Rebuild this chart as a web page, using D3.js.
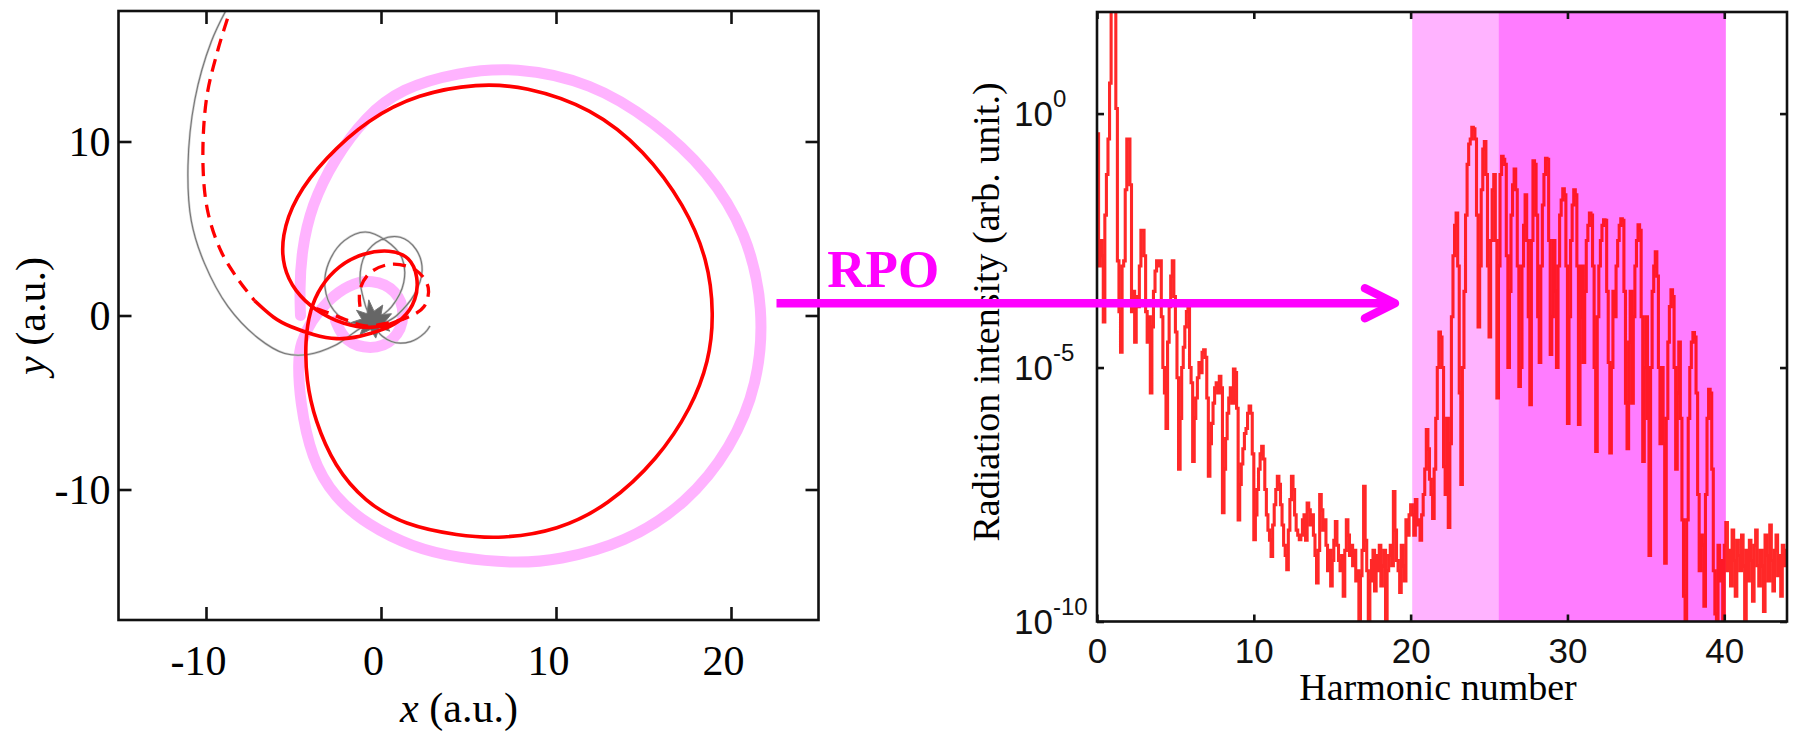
<!DOCTYPE html>
<html><head><meta charset="utf-8">
<script src="https://cdn.jsdelivr.net/npm/d3@7"></script>
<style>body{margin:0;background:#fff}svg{display:block}</style>
</head><body>
<svg id="fig" width="1794" height="731"></svg>
<script>
// ---------- trajectory panel data (atomic units) ----------
const pinkSpiral = [
  [-2.6,-0.3],[-2.1,-1.5],[-0.6,-2.0],[0.8,-1.5],[1.45,0.0],[0.9,1.5],[-0.5,2.1],[-1.9,1.75],
  [-3.0,0.9],[-4.0,-0.3],[-4.6,-1.6],[-4.74,-2.63],[-4.65,-4.87],[-3.98,-8.24],[-2.65,-10.48],
  [-0.74,-12.05],[1.73,-13.29],[4.4,-13.95],[7.64,-14.25],[10.11,-14.07],[13.92,-13.1],
  [17.5,-10.8],[20.02,-7.6],[21.54,-3.98],[21.9,0.4],[20.9,4.77],[18.7,8.3],[15.6,11.15],
  [12.02,13.4],[7.64,14.3],[4.4,13.97],[1.16,13.07],[-0.9,11.4],[-2.65,9.03],[-3.98,6.34],
  [-4.55,3.65],[-4.65,1.41],[-4.6,0.0]
];
const redSolid = [
  [-7.22,0.85],[-6.1,-0.2],[-5.2,-0.64],[-3.87,-1.12],[-2.53,-1.41],[-1.2,-1.22],[0.13,-0.83],
  [1.27,-0.26],[2.04,0.89],[2.13,2.23],[1.66,3.38],[0.51,3.8],[-1.01,3.6],[-2.4,2.9],[-3.49,1.66],
  [-4.06,0.32],[-4.34,-1.41],[-4.27,-3.75],[-3.79,-6.0],[-2.65,-8.69],[-0.93,-10.7],[1.35,-12.05],
  [4.4,-12.65],[6.88,-12.84],[10.11,-12.35],[12.97,-10.93],[15.83,-8.24],[17.73,-5.32],
  [18.75,-2.63],[19.03,0.06],[18.69,3.2],[17.35,6.34],[15.07,9.48],[12.02,11.95],[8.21,13.18],
  [5.54,13.34],[2.11,12.74],[-0.74,11.28],[-3.21,9.03],[-4.93,6.79],[-5.69,4.55],[-5.6,2.75],
  [-4.93,1.41],[-3.79,0.29],[-2.08,-0.55],[-0.6,-0.75],[0.5,-0.55],[1.4,-0.1]
];
const redDashedOuter = [
  [-8.4,18.2],[-9.31,15.3],[-9.98,12.4],[-10.17,8.59],[-9.88,5.89],[-9.12,3.65],[-8.17,2.08],[-7.22,0.85]
];
const redDashedInner = [
  [-3.7,0.4],[-3.0,0.15],[-2.0,-0.25],[-0.9,-0.6],[0.3,-0.45],[1.5,-0.12],[2.45,0.5],[2.7,1.6],
  [2.0,2.6],[0.6,2.95],[-0.63,2.45],[-1.2,1.5],[-1.2,0.5]
];
const grayOuter = [
  [-8.5,18.2],[-9.69,15.76],[-10.64,12.4],[-11.03,8.59],[-10.84,5.44],[-10.08,2.98],[-8.74,0.51],
  [-7.03,-1.29],[-5.5,-2.18],[-4.17,-2.24],[-2.65,-1.73],[-1.31,-0.82],[-0.4,-0.3]
];
const grayLoops = [
  [-0.4,-0.3],[0.6,0.5],[1.3,1.9],[1.2,3.3],[0.3,4.3],[-0.9,4.8],[-2.1,4.3],[-3.0,3.0],[-3.2,1.6],
  [-2.7,0.3],[-1.6,-0.5],[-0.5,-0.6],[-0.9,0.6],[-1.2,2.1],[-0.9,3.5],[0.0,4.35],[1.1,4.5],
  [2.0,3.8],[2.35,2.6],[1.9,1.2],[0.9,0.0],[-0.2,-0.8],[0.6,-1.5],[1.7,-1.5],[2.5,-1.0],[2.8,-0.6]
];
const coreBlob = [
  [-1.7,-0.4],[-1.1,-0.2],[-1.4,0.3],[-0.8,0.1],[-0.7,0.9],[-0.4,0.25],[0.1,0.6],[0.0,0.05],
  [0.6,0.1],[0.2,-0.4],[0.5,-0.9],[-0.1,-0.7],[-0.3,-1.3],[-0.6,-0.8],[-1.2,-1.1],[-1.0,-0.6]
];
const trajXTicks = [-10, 0, 10, 20];
const trajYTicks = [-10, 0, 10];

// ---------- spectrum panel data ----------
const harmonicStep = 0.1;
// log10 of radiation intensity, ten samples per harmonic order
const spectrumLog = [
  -0.4,-3.0,-2.5,-2.8,-4.1,-2.0,-1.2,-0.5,0.6,2.3,
  2.3,2.3,0.1,-2.9,-3.9,-4.7,-3.0,-2.9,-1.5,-0.5,
  -0.5,-1.4,-3.9,-3.5,-4.5,-3.6,-3.8,-3.0,-2.3,-2.3,
  -2.8,-3.9,-4.5,-4.0,-5.5,-4.2,-3.5,-3.1,-2.9,-3.0,
  -2.9,-4.0,-5.0,-5.5,-6.2,-4.5,-3.8,-3.2,-2.9,-3.6,
  -4.3,-5.2,-7.0,-6.0,-5.0,-4.6,-4.2,-3.9,-3.8,-5.0,
  -5.3,-6.85,-6.0,-5.6,-5.2,-4.9,-5.1,-4.7,-4.65,-4.8,
  -5.6,-7.14,-6.5,-6.1,-5.7,-5.4,-5.3,-5.5,-5.17,-5.4,
  -7.86,-7.0,-6.4,-5.9,-5.6,-5.4,-5.7,-5.03,-5.1,-5.8,
  -8.0,-7.3,-6.9,-6.6,-6.3,-6.2,-5.9,-5.76,-5.9,-6.7,
  -8.39,-7.9,-7.4,-7.0,-6.7,-6.55,-6.8,-7.4,-7.9,-8.2,
  -8.4,-8.72,-8.1,-7.7,-7.4,-7.14,-7.3,-7.7,-8.1,-8.5,
  -8.7,-8.98,-8.2,-7.6,-7.14,-7.4,-7.9,-8.2,-8.3,-8.39,
  -8.3,-8.0,-7.9,-8.4,-7.67,-7.8,-8.1,-7.9,-8.3,-8.7,
  -9.24,-8.6,-7.5,-7.8,-8.2,-8.0,-8.5,-9.0,-8.6,-9.3,
  -8.8,-8.4,-8.03,-8.5,-8.8,-9.0,-8.7,-9.5,-8.6,-8.0,
  -8.3,-8.7,-8.5,-8.9,-8.6,-9.2,-9.0,-10.5,-9.1,-8.6,
  -7.34,-8.4,-9.0,-10.5,-9.2,-8.8,-8.6,-9.4,-8.7,-9.0,
  -8.5,-9.3,-8.9,-8.6,-10.5,-9.0,-8.7,-8.5,-8.9,-7.44,
  -8.2,-8.8,-9.0,-9.43,-8.5,-8.9,-9.2,-8.0,-8.3,-7.9,
  -7.7,-7.9,-8.3,-7.6,-8.1,-8.0,-8.4,-7.9,-7.5,-7.0,
  -6.22,-6.6,-7.2,-7.5,-7.97,-7.0,-6.0,-5.0,-4.3,-4.4,
  -5.0,-6.95,-7.5,-6.0,-8.15,-6.5,-4.0,-2.8,-2.2,-1.96,
  -3.0,-5.5,-7.3,-5.0,-3.5,-2.0,-1.0,-0.6,-0.5,-0.27,
  -0.3,-0.5,-2.0,-4.2,-3.0,-1.5,-0.7,-0.55,-1.2,-3.0,
  -4.4,-2.5,-1.5,-1.2,-2.5,-5.6,-3.0,-1.2,-0.84,-0.9,
  -1.0,-2.8,-5.0,-3.5,-2.0,-1.4,-1.09,-1.5,-3.0,-5.37,
  -5.0,-3.0,-2.2,-1.6,-2.5,-4.0,-5.73,-2.5,-0.93,-1.0,
  -2.0,-4.0,-4.9,-3.0,-1.8,-1.2,-0.88,-0.9,-2.5,-4.74,
  -4.0,-2.5,-3.5,-5.0,-3.0,-2.0,-1.7,-1.48,-1.6,-3.0,
  -6.1,-4.0,-2.5,-1.8,-1.5,-1.6,-3.0,-6.12,-4.0,-3.0,
  -4.9,-3.5,-2.5,-2.2,-1.96,-2.0,-3.0,-5.0,-6.65,-4.0,
  -3.0,-2.5,-2.2,-2.09,-2.1,-3.5,-4.9,-6.68,-5.0,-3.5,
  -4.0,-3.0,-2.5,-2.2,-2.07,-2.1,-3.5,-5.7,-6.6,-4.5,
  -3.5,-5.7,-4.0,-3.0,-2.5,-2.19,-2.3,-4.0,-6.85,-5.0,
  -4.0,-6.0,-8.7,-5.0,-3.5,-3.0,-2.72,-3.2,-5.0,-6.5,
  -5.0,-6.5,-8.85,-6.0,-4.5,-3.8,-3.47,-3.6,-5.0,-7.0,
  -5.5,-4.5,-6.0,-8.0,-9.5,-10.5,-8.0,-6.0,-5.0,-4.5,
  -4.31,-4.4,-5.5,-7.5,-9.0,-8.3,-8.5,-9.7,-7.5,-6.0,
  -5.43,-5.5,-7.0,-9.0,-9.85,-10.5,-8.5,-9.2,-8.8,-10.5,
  -8.5,-8.05,-9.0,-8.6,-9.3,-8.2,-8.8,-9.5,-8.4,-8.7,
  -9.0,-8.3,-8.9,-10.5,-8.6,-9.2,-8.4,-8.8,-9.6,-8.5,
  -8.2,-8.9,-9.3,-8.6,-8.9,-9.8,-8.3,-8.7,-9.2,-8.1,
  -8.8,-9.4,-8.6,-8.3,-9.1,-8.7,-9.5,-8.5,-8.9,-8.6,
  -8.8
];
const bandEdges = [20.1, 25.6, 40.1];          // light band, then dark band
const bandColors = ["#ffb3ff", "#ff7cff"];
const specXTicks = [0, 10, 20, 30, 40];
const specYTicks = [0, -5, -10];                // decades

// RPO annotation: arrow from trajectory panel (x, y in a.u.) into the spectrum panel (harmonic, log10 I)
const arrowFrom = [22.6, 0.7];
const arrowTo = [19.0, -3.73];
const rpoAnchor = [25.5, 1.65];

// ---------- drawing ----------
const svg = d3.select("#fig");
const serif = "'Liberation Serif','Times New Roman',Times,serif";
const sans = "'Liberation Sans',Arial,Helvetica,sans-serif";

const xL = d3.scaleLinear().domain([-15, 25]).range([118.5, 818.5]);
const yL = d3.scaleLinear().domain([-17.5, 17.5]).range([620, 11]);
const xR = d3.scaleLinear().domain([0, 44]).range([1097, 1787]);
const yR = d3.scaleLog().domain([1e-10, 1e2]).range([621.5, 12]);

const defs = svg.append("defs");
defs.append("clipPath").attr("id", "clipL").append("rect")
  .attr("x", xL.range()[0]).attr("y", yL.range()[1])
  .attr("width", xL.range()[1] - xL.range()[0]).attr("height", yL.range()[0] - yL.range()[1]);
defs.append("clipPath").attr("id", "clipR").append("rect")
  .attr("x", xR.range()[0]).attr("y", yR.range()[1])
  .attr("width", xR.range()[1] - xR.range()[0]).attr("height", yR.range()[0] - yR.range()[1]);

// ----- trajectory panel -----
const gL = svg.append("g");
const trajSmooth = d3.line().x(d => xL(d[0])).y(d => yL(d[1])).curve(d3.curveBasis);
const trajLoose = d3.line().x(d => xL(d[0])).y(d => yL(d[1])).curve(d3.curveCatmullRom.alpha(0.5));
const plotL = gL.append("g").attr("clip-path", "url(#clipL)");

plotL.append("path").datum(pinkSpiral).attr("d", trajSmooth)
  .attr("fill", "none").attr("stroke", "#ffb3ff").attr("stroke-width", 11).attr("stroke-linecap", "round");
[grayOuter, grayLoops].forEach(pts => {
  plotL.append("path").datum(pts).attr("d", trajLoose)
    .attr("fill", "none").attr("stroke", "#d0d0d0").attr("stroke-width", 2.4);
  plotL.append("path").datum(pts).attr("d", trajLoose)
    .attr("fill", "none").attr("stroke", "#767676").attr("stroke-width", 1.1);
});
plotL.append("path").datum(coreBlob)
  .attr("d", d3.line().x(d => xL(d[0])).y(d => yL(d[1])).curve(d3.curveLinearClosed))
  .attr("fill", "#666").attr("stroke", "#777").attr("stroke-width", 1);
plotL.append("path").datum(redSolid).attr("d", trajSmooth)
  .attr("fill", "none").attr("stroke", "#ff0000").attr("stroke-width", 3.6);
[redDashedOuter, redDashedInner].forEach(pts => {
  plotL.append("path").datum(pts).attr("d", trajLoose)
    .attr("fill", "none").attr("stroke", "#ff0000").attr("stroke-width", 3.3)
    .attr("stroke-dasharray", "13,8");
});

gL.append("rect")
  .attr("x", xL.range()[0]).attr("y", yL.range()[1])
  .attr("width", xL.range()[1] - xL.range()[0]).attr("height", yL.range()[0] - yL.range()[1])
  .attr("fill", "none").attr("stroke", "#111").attr("stroke-width", 2.6);

function styleAxis(g, font, size) {
  g.select(".domain").remove();
  g.selectAll(".tick line").attr("stroke", "#111").attr("stroke-width", 2.6);
  g.selectAll("text").attr("font-family", font).attr("font-size", size).attr("fill", "#000");
}
const tickL = 13;
gL.append("g").attr("transform", `translate(0,${yL.range()[0]})`)
  .call(d3.axisBottom(xL).tickValues(trajXTicks).tickSize(-tickL).tickFormat(d => d < 0 ? "-" + Math.abs(d) : d))
  .call(g => styleAxis(g, serif, 42))
  .call(g => g.selectAll("text").attr("y", 55).attr("dy", null).attr("dx", -8));
gL.append("g").attr("transform", `translate(0,${yL.range()[1]})`)
  .call(d3.axisTop(xL).tickValues(trajXTicks).tickSize(-tickL).tickFormat(""))
  .call(g => styleAxis(g, serif, 42));
gL.append("g").attr("transform", `translate(${xL.range()[0]},0)`)
  .call(d3.axisLeft(yL).tickValues(trajYTicks).tickSize(-tickL).tickFormat(d => d < 0 ? "-" + Math.abs(d) : d))
  .call(g => styleAxis(g, serif, 42))
  .call(g => g.selectAll("text").attr("x", -8).attr("dy", "0.34em"));
gL.append("g").attr("transform", `translate(${xL.range()[1]},0)`)
  .call(d3.axisRight(yL).tickValues(trajYTicks).tickSize(-tickL).tickFormat(""))
  .call(g => styleAxis(g, serif, 42));

const xLab = gL.append("text").attr("x", 459).attr("y", 722).attr("text-anchor", "middle")
  .attr("font-family", serif).attr("font-size", 42);
xLab.append("tspan").attr("font-style", "italic").text("x");
xLab.append("tspan").text(" (a.u.)");
const yLab = gL.append("text").attr("transform", "translate(45,316) rotate(-90)").attr("text-anchor", "middle")
  .attr("font-family", serif).attr("font-size", 42);
yLab.append("tspan").attr("font-style", "italic").text("y");
yLab.append("tspan").text(" (a.u.)");

// ----- spectrum panel -----
const gR = svg.append("g");
const plotR = gR.append("g").attr("clip-path", "url(#clipR)");
plotR.selectAll("rect.band").data(bandColors).join("rect").attr("class", "band")
  .attr("x", (d, i) => xR(bandEdges[i]))
  .attr("width", (d, i) => xR(bandEdges[i + 1]) - xR(bandEdges[i]))
  .attr("y", yR.range()[1]).attr("height", yR.range()[0] - yR.range()[1])
  .attr("fill", d => d);

const spectrum = spectrumLog.map((v, i) => [i * harmonicStep, Math.pow(10, v)]);
plotR.append("path").datum(spectrum)
  .attr("d", d3.line().x(d => xR(d[0])).y(d => yR(d[1])).curve(d3.curveStepAfter))
  .attr("fill", "none").attr("stroke", "#ff0a0a").attr("stroke-opacity", 0.88)
  .attr("stroke-width", 3.1).attr("stroke-linejoin", "miter");

gR.append("rect")
  .attr("x", xR.range()[0]).attr("y", yR.range()[1])
  .attr("width", xR.range()[1] - xR.range()[0]).attr("height", yR.range()[0] - yR.range()[1])
  .attr("fill", "none").attr("stroke", "#111").attr("stroke-width", 2.6);

const tickR = 7;
gR.append("g").attr("transform", `translate(0,${yR.range()[0]})`)
  .call(d3.axisBottom(xR).tickValues(specXTicks).tickSize(-tickR))
  .call(g => styleAxis(g, sans, 35))
  .call(g => g.selectAll("text").attr("y", 41).attr("dy", null).attr("fill", "#111"));
gR.append("g").attr("transform", `translate(0,${yR.range()[1]})`)
  .call(d3.axisTop(xR).tickValues(specXTicks).tickSize(-tickR).tickFormat(""))
  .call(g => styleAxis(g, sans, 35));
const yAxisR = gR.append("g").attr("transform", `translate(${xR.range()[0]},0)`)
  .call(d3.axisLeft(yR).tickValues(specYTicks.map(e => Math.pow(10, e))).tickSize(-tickR).tickFormat(""))
  .call(g => styleAxis(g, sans, 35));
yAxisR.selectAll(".tick").each(function (d) {
  const e = Math.round(Math.log10(d));
  const t = d3.select(this).append("text").attr("x", -83).attr("y", 12)
    .attr("text-anchor", "start").attr("font-family", sans).attr("fill", "#111");
  t.append("tspan").attr("font-size", 35).text("10");
  t.append("tspan").attr("font-size", 24).attr("dy", -19).text(e);
});
gR.append("g").attr("transform", `translate(${xR.range()[1]},0)`)
  .call(d3.axisRight(yR).tickValues(specYTicks.map(e => Math.pow(10, e))).tickSize(-tickR).tickFormat(""))
  .call(g => styleAxis(g, sans, 35));

gR.append("text").attr("x", 1438).attr("y", 700).attr("text-anchor", "middle")
  .attr("font-family", serif).attr("font-size", 38).text("Harmonic number");
gR.append("text").attr("transform", "translate(999,312) rotate(-90)").attr("text-anchor", "middle")
  .attr("font-family", serif).attr("font-size", 38).text("Radiation intensity (arb. unit.)");

// ----- RPO arrow -----
const ax0 = xL(arrowFrom[0]), ay = yL(arrowFrom[1]);
const ax1 = xR(arrowTo[0]);
const ann = svg.append("g").attr("stroke", "#ff00ff").attr("stroke-width", 8.5).attr("fill", "none");
ann.append("line").attr("x1", ax0).attr("y1", ay).attr("x2", ax1 - 4).attr("y2", ay);
ann.append("polyline")
  .attr("points", `${ax1 - 30},${ay - 15} ${ax1},${ay} ${ax1 - 30},${ay + 15}`)
  .attr("stroke-linecap", "round").attr("stroke-linejoin", "round");
svg.append("text").attr("x", xL(rpoAnchor[0])).attr("y", yL(rpoAnchor[1]))
  .attr("font-family", serif).attr("font-weight", "bold").attr("font-size", 53)
  .attr("fill", "#ff00ff").text("RPO");
</script>
</body></html>
